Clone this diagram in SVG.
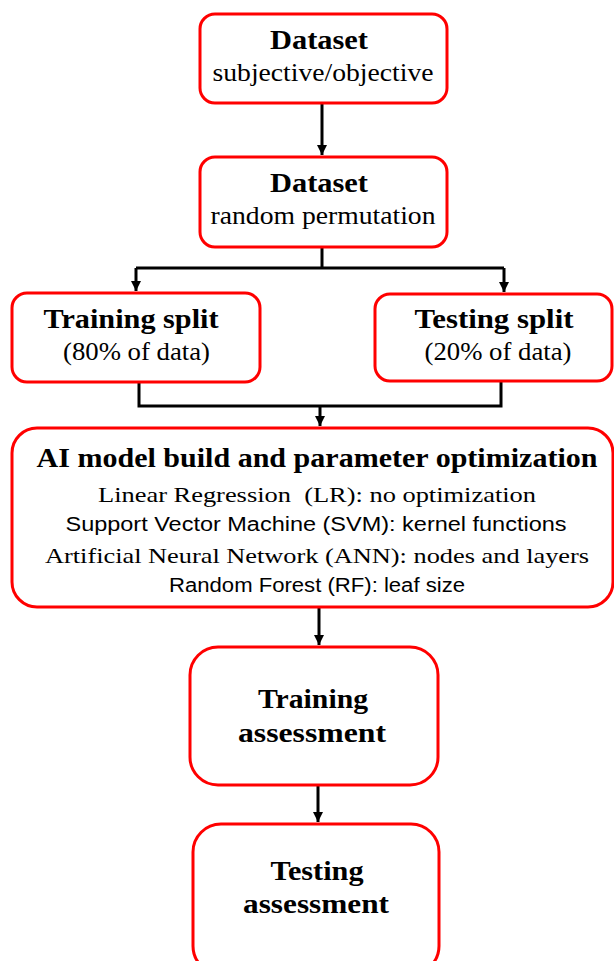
<svg xmlns="http://www.w3.org/2000/svg" width="614" height="961" viewBox="0 0 614 961">
<defs>
<marker id="ah" markerUnits="userSpaceOnUse" markerWidth="10" markerHeight="11" refX="10" refY="5" orient="auto">
<path d="M0,0 L10,5 L0,10 Z" fill="#000"/>
</marker>
<style>
.box{fill:#fff;stroke:#ff0000;stroke-width:3}
.ln{fill:none;stroke:#000;stroke-width:3}
.t{font-family:"Liberation Serif",serif;font-weight:bold;font-size:27px;fill:#000;text-anchor:middle}
.s{font-family:"Liberation Serif",serif;font-size:26px;fill:#000;text-anchor:middle}
.m{font-family:"Liberation Serif",serif;font-size:22px;fill:#000;text-anchor:middle}
.k{font-family:"Liberation Sans",sans-serif;font-size:20px;fill:#000;text-anchor:middle}
</style>
</defs>
<rect width="614" height="961" fill="#fff"/>
<g id="connectors">
<path class="ln" d="M322,103 V155" marker-end="url(#ah)"/>
<path class="ln" d="M322,247 V268"/>
<path class="ln" d="M136,268 H504"/>
<path class="ln" d="M136,268 V291" marker-end="url(#ah)"/>
<path class="ln" d="M504,268 V292" marker-end="url(#ah)"/>
<path class="ln" d="M139,382 V406 H501 V381"/>
<path class="ln" d="M320,406 V426" marker-end="url(#ah)"/>
<path class="ln" d="M319,607 V645" marker-end="url(#ah)"/>
<path class="ln" d="M318,785 V822" marker-end="url(#ah)"/>
</g>
<g id="dataset1">
<rect class="box" x="200" y="14" width="247" height="89" rx="15"/>
<text class="t" x="319" y="49" textLength="98" lengthAdjust="spacingAndGlyphs">Dataset</text>
<text class="s" x="323" y="81" textLength="221" lengthAdjust="spacingAndGlyphs">subjective/objective</text>
</g>
<g id="dataset2">
<rect class="box" x="200" y="157" width="247" height="90" rx="15"/>
<text class="t" x="319" y="192" textLength="98" lengthAdjust="spacingAndGlyphs">Dataset</text>
<text class="s" x="323" y="224" textLength="225" lengthAdjust="spacingAndGlyphs">random permutation</text>
</g>
<g id="training-split">
<rect class="box" x="12" y="293" width="248" height="89" rx="15"/>
<text class="t" x="131" y="328" textLength="175" lengthAdjust="spacingAndGlyphs">Training split</text>
<text class="s" x="136.5" y="360" textLength="147" lengthAdjust="spacingAndGlyphs">(80% of data)</text>
</g>
<g id="testing-split">
<rect class="box" x="375" y="294" width="237" height="87" rx="15"/>
<text class="t" x="494" y="328" textLength="159" lengthAdjust="spacingAndGlyphs">Testing split</text>
<text class="s" x="498" y="360" textLength="147" lengthAdjust="spacingAndGlyphs">(20% of data)</text>
</g>
<g id="ai-model">
<rect class="box" x="12" y="428" width="601" height="179" rx="25"/>
<text class="t" x="317" y="467" textLength="561" lengthAdjust="spacingAndGlyphs">AI model build and parameter optimization</text>
<text class="m" x="317" y="502" textLength="438" lengthAdjust="spacingAndGlyphs" xml:space="preserve">Linear Regression  (LR): no optimization</text>
<text class="k" x="316" y="531" textLength="501" lengthAdjust="spacingAndGlyphs">Support Vector Machine (SVM): kernel functions</text>
<text class="m" x="317" y="563" textLength="544" lengthAdjust="spacingAndGlyphs">Artificial Neural Network (ANN): nodes and layers</text>
<text class="k" x="317" y="592" textLength="296" lengthAdjust="spacingAndGlyphs">Random Forest (RF): leaf size</text>
</g>
<g id="training-assessment">
<rect class="box" x="190" y="647" width="248" height="138" rx="28"/>
<text class="t" x="313" y="708" textLength="110" lengthAdjust="spacingAndGlyphs">Training</text>
<text class="t" x="312" y="742" textLength="148" lengthAdjust="spacingAndGlyphs">assessment</text>
</g>
<g id="testing-assessment">
<rect class="box" x="193" y="824" width="246" height="150" rx="28"/>
<text class="t" x="317" y="880" textLength="93" lengthAdjust="spacingAndGlyphs">Testing</text>
<text class="t" x="316" y="913" textLength="146" lengthAdjust="spacingAndGlyphs">assessment</text>
</g>
</svg>
